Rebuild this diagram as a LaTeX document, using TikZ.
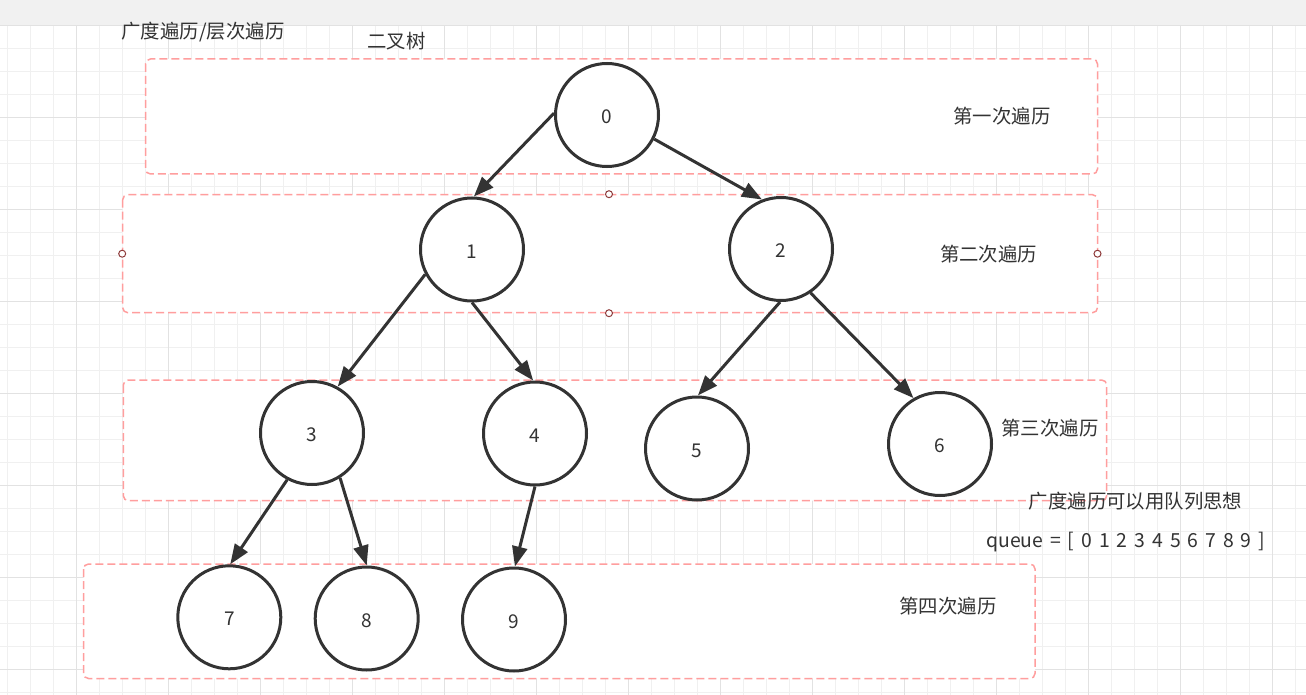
\documentclass[tikz,border=0pt]{standalone}
\usepackage{fontspec}
\setmainfont{Noto Sans CJK SC}
\newfontfamily\widespaced[WordSpace=1.6]{Noto Sans CJK SC}
\usetikzlibrary{arrows.meta}
\definecolor{ink}{HTML}{333333}
\definecolor{dashred}{HTML}{FF9E9E}
\definecolor{gridminor}{HTML}{F0F0F0}
\definecolor{gridmajor}{HTML}{E2E2E2}
\definecolor{barfill}{HTML}{F1F1F1}
\definecolor{gripred}{HTML}{8E3A3A}

\begin{document}
\begin{tikzpicture}[x=1pt,y=-1pt,
  band/.style={draw=dashred, line width=1.5pt, dash pattern=on 8pt off 4pt, rounded corners=5pt, fill=white},
  treenode/.style={circle, draw=ink, line width=3pt, fill=white, minimum size=103pt, inner sep=0pt,
                   text height=17pt, text depth=0pt,
                   font=\fontsize{19}{22}\selectfont, text=ink},
  link/.style={draw=ink, line width=3pt, -{Triangle[length=20pt,width=15pt]}},
  note/.style={font=\fontsize{19.4}{22}\selectfont, text=ink, inner sep=0pt},
  grip/.style={circle, draw=gripred, fill=white, line width=1pt, minimum size=7pt, inner sep=0pt}]

\useasboundingbox (0,0) rectangle (1306,695);

% canvas: top bar and background grid
\fill[white] (0,0) rectangle (1306,695);
\fill[barfill] (0,0) rectangle (1306,25.3);
\foreach \k in {0,...,56}
  \draw[gridminor, line width=1pt] ({7.7+23*\k},25.3) -- ({7.7+23*\k},695);
\foreach \k in {0,...,29}
  \draw[gridminor, line width=1pt] (0,{25.3+23*\k}) -- (1306,{25.3+23*\k});
\foreach \k in {0,...,13}
  \draw[gridmajor, line width=1pt] ({76.7+92*\k},25.3) -- ({76.7+92*\k},695);
\foreach \k in {0,...,7}
  \draw[gridmajor, line width=1pt] (0,{25.3+92*\k}) -- (1306,{25.3+92*\k});

% one dashed band per traversal level
\path[band] (145.5,59) rectangle (1097.5,174);
\path[band] (122.7,194.7) rectangle (1097.5,312.7);
\path[band] (123.3,380) rectangle (1106.7,500.7);
\path[band] (83.5,564) rectangle (1035,678.5);

% captions
\node[note] (title) at (203,32) {广度遍历/层次遍历};
\node[note] (treename) at (396.5,41.5) {二叉树};
\node[note] (pass1) at (1002,116) {第一次遍历};
\node[note] (pass2) at (988.5,254) {第二次遍历};
\node[note] (pass3) at (1050,428) {第三次遍历};
\node[note] (pass4) at (948,606) {第四次遍历};
\node[note] (hint) at (1135.5,501) {广度遍历可以用队列思想};
\node[note, font=\widespaced\fontsize{19.4}{22}\selectfont] (queue) at (1125.7,542)
  {queue = [ 0 1 2 3 4 5 6 7 8 9 ]};

% tree nodes
\node[treenode] (n0) at (607,115) {0};
\node[treenode] (n1) at (472,249.5) {1};
\node[treenode] (n2) at (781,249) {2};
\node[treenode] (n3) at (312,433) {3};
\node[treenode] (n4) at (535,433.5) {4};
\node[treenode] (n5) at (697,448.5) {5};
\node[treenode] (n6) at (940,444) {6};
\node[treenode] (n7) at (229.3,617.3) {7};
\node[treenode] (n8) at (366.7,618.5) {8};
\node[treenode] (n9) at (514,619.5) {9};

% parent -> child edges
\draw[link] (n0.178) -- (n1.88);
\draw[link] (n0.-27) -- (n2.111);
\draw[link] (n1.208) -- (n3.61);
\draw[link] (n1.-90) -- (n4.92);
\draw[link] (n2.-91) -- (n5.89);
\draw[link] (n2.-56) -- (n6.120);
\draw[link] (n3.-118) -- (n7.89);
\draw[link] (n3.-58) -- (n8.90);
\draw[link] (n4.-90) -- (n9.89);

% selection handles on the second band
\node[grip] (gw) at (122.2,253.7) {};
\node[grip] (gn) at (609,194.2) {};
\node[grip] (ge) at (1097.5,253.7) {};
\node[grip] (gs) at (609,313.2) {};
\end{tikzpicture}
\end{document}
